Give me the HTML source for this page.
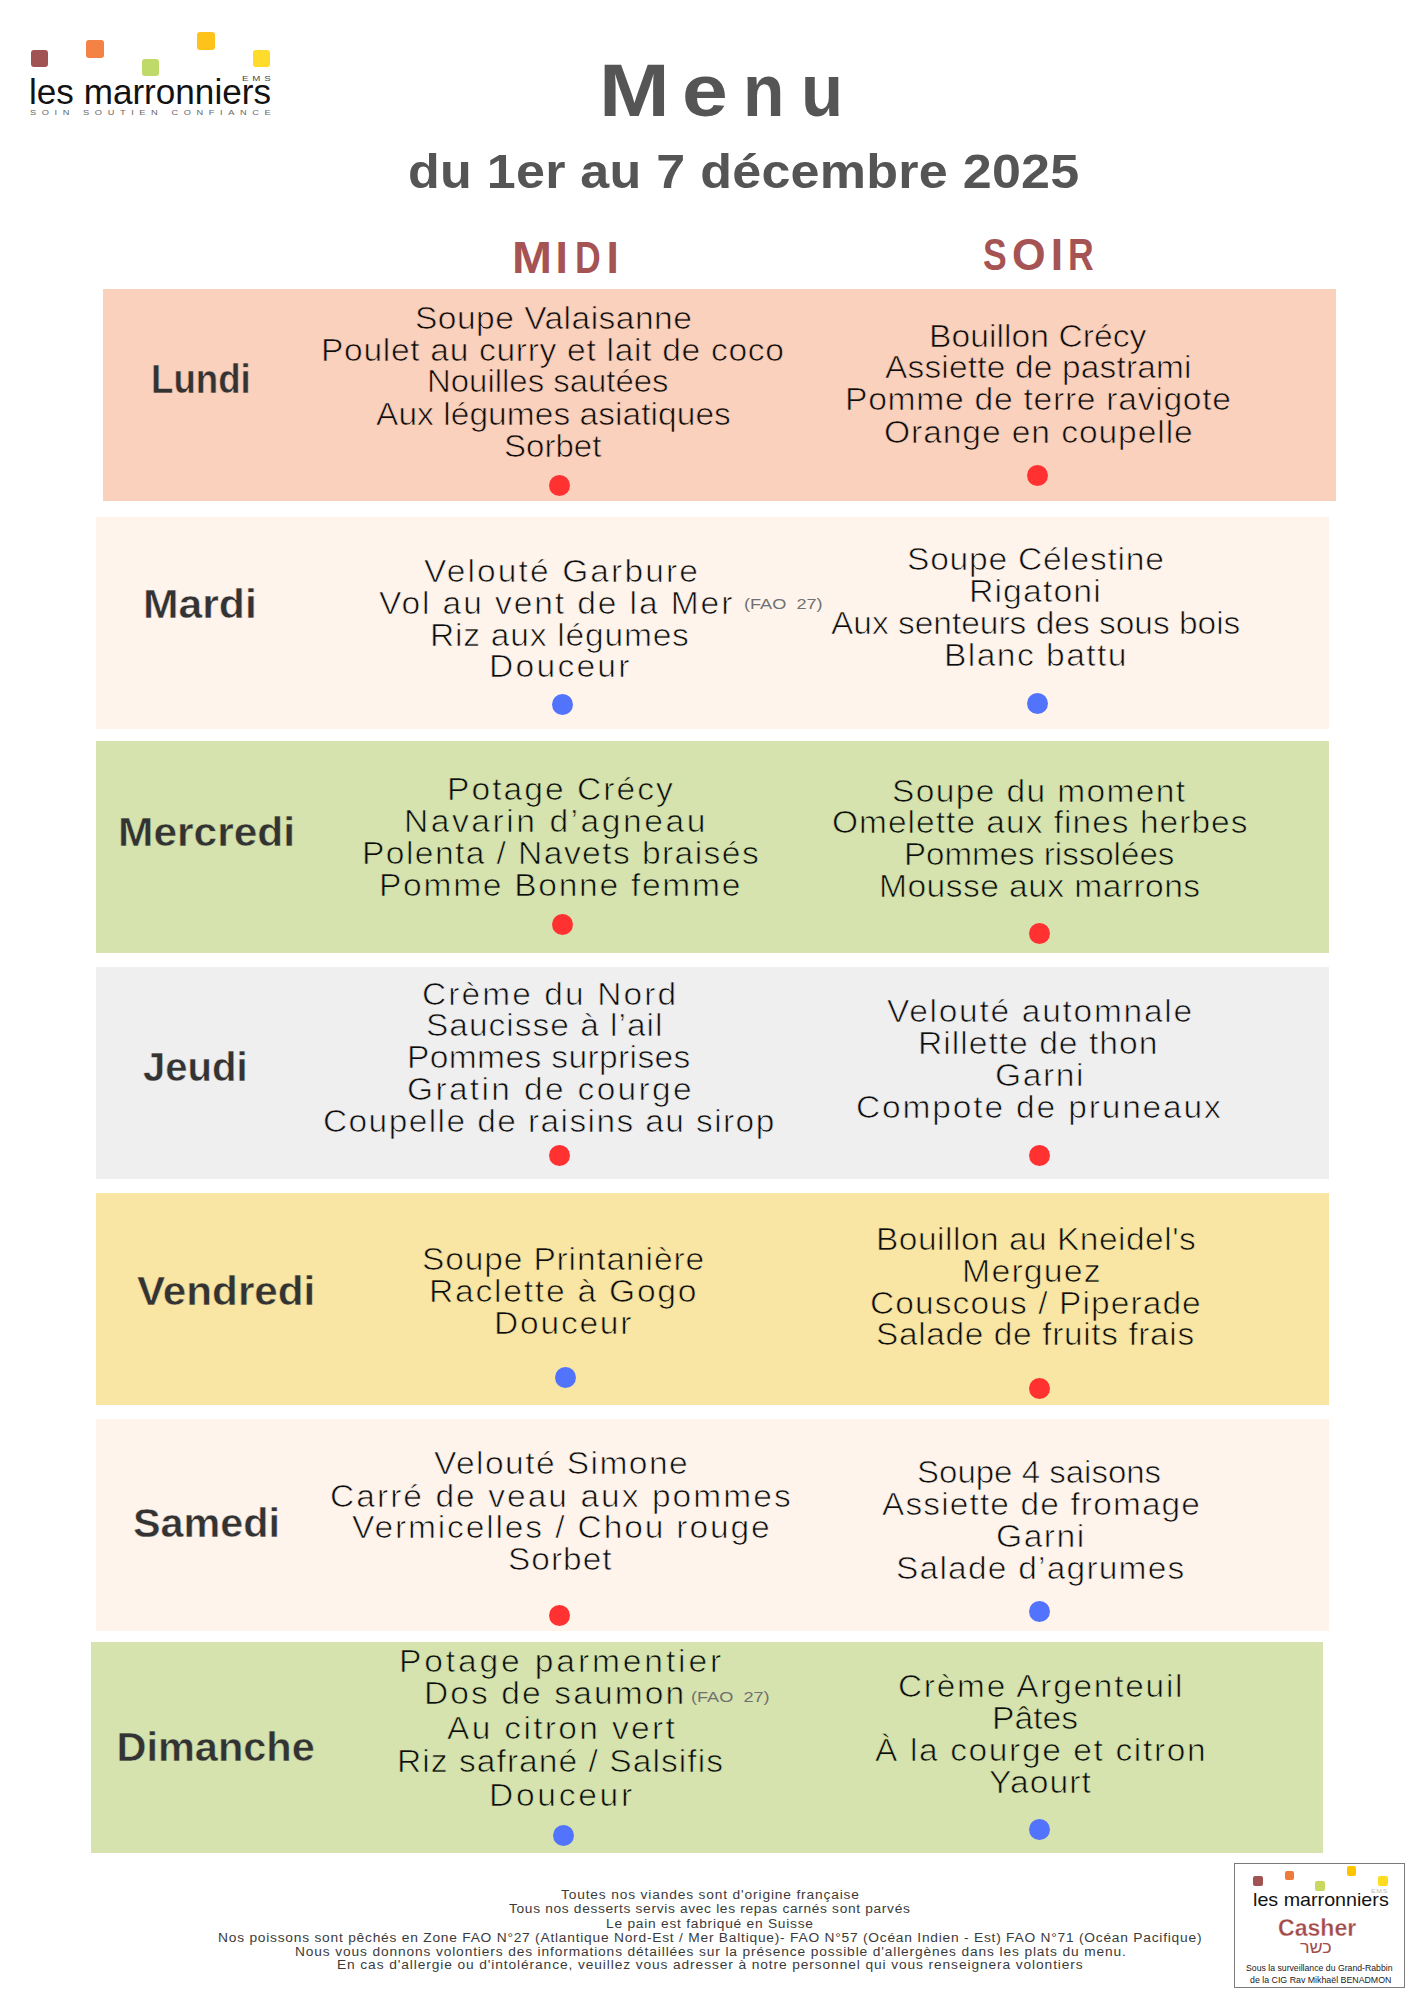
<!DOCTYPE html><html><head><meta charset="utf-8"><title>Menu</title><style>

*{margin:0;padding:0;box-sizing:border-box}
html,body{width:1414px;height:2000px;background:#fff;overflow:hidden}
body{position:relative;font-family:"Liberation Sans",sans-serif}
.b{position:absolute}
.t{position:absolute;line-height:0;white-space:pre;transform-origin:0 0}
.d{position:absolute;width:21px;height:21px;border-radius:50%}
.r{background:#FF3131}
.u{background:#5273FC}
.sq{position:absolute;border-radius:3px}

</style></head><body>
<div class="b" style="left:103px;top:289px;width:1233px;height:212px;background:#F9D1BC"></div>
<div class="b" style="left:96px;top:517px;width:1233px;height:212px;background:#FEF4EB"></div>
<div class="b" style="left:96px;top:741px;width:1233px;height:212px;background:#D7E3AF"></div>
<div class="b" style="left:96px;top:967px;width:1233px;height:212px;background:#EFEFEF"></div>
<div class="b" style="left:96px;top:1193px;width:1233px;height:212px;background:#F9E6A5"></div>
<div class="b" style="left:96px;top:1419px;width:1233px;height:212px;background:#FEF4EB"></div>
<div class="b" style="left:91px;top:1642px;width:1232px;height:211px;background:#D7E3AF"></div>
<div class="b" style="left:1234px;top:1863px;width:171px;height:125px;border:1.5px solid #7a7a7a"></div>
<div class="t" style="left:414.85px;top:319.00px;font-size:31px;-webkit-text-stroke:0.7px #F9D1BC;color:#0d0d0d;letter-spacing:0.423px;transform:scaleX(1.0828)">Soupe Valaisanne</div>
<div class="t" style="left:321.35px;top:351.00px;font-size:31px;-webkit-text-stroke:0.7px #F9D1BC;color:#0d0d0d;letter-spacing:0.652px;transform:scaleX(1.0816)">Poulet au curry et lait de coco</div>
<div class="t" style="left:427.25px;top:382.00px;font-size:31px;-webkit-text-stroke:0.7px #F9D1BC;color:#0d0d0d;letter-spacing:0.000px;transform:scaleX(1.0619)">Nouilles sautées</div>
<div class="t" style="left:376.35px;top:415.00px;font-size:31px;-webkit-text-stroke:0.7px #F9D1BC;color:#0d0d0d;letter-spacing:0.068px;transform:scaleX(1.0791)">Aux légumes asiatiques</div>
<div class="t" style="left:504.00px;top:447.00px;font-size:31px;-webkit-text-stroke:0.7px #F9D1BC;color:#0d0d0d;letter-spacing:0.000px;transform:scaleX(1.0659)">Sorbet</div>
<div class="t" style="left:928.65px;top:337.00px;font-size:31px;-webkit-text-stroke:0.7px #F9D1BC;color:#0d0d0d;letter-spacing:0.056px;transform:scaleX(1.0835)">Bouillon Crécy</div>
<div class="t" style="left:885.30px;top:368.00px;font-size:31px;-webkit-text-stroke:0.7px #F9D1BC;color:#0d0d0d;letter-spacing:0.166px;transform:scaleX(1.0793)">Assiette de pastrami</div>
<div class="t" style="left:844.65px;top:400.00px;font-size:31px;-webkit-text-stroke:0.7px #F9D1BC;color:#0d0d0d;letter-spacing:0.661px;transform:scaleX(1.0854)">Pomme de terre ravigote</div>
<div class="t" style="left:883.65px;top:433.00px;font-size:31px;-webkit-text-stroke:0.7px #F9D1BC;color:#0d0d0d;letter-spacing:0.870px;transform:scaleX(1.0818)">Orange en coupelle</div>
<div class="t" style="left:423.50px;top:572.00px;font-size:31px;-webkit-text-stroke:0.7px #FEF4EB;color:#0d0d0d;letter-spacing:1.984px;transform:scaleX(1.0800)">Velouté Garbure</div>
<div class="t" style="left:378.80px;top:604.00px;font-size:31px;-webkit-text-stroke:0.7px #FEF4EB;color:#0d0d0d;letter-spacing:1.770px;transform:scaleX(1.0818)">Vol au vent de la Mer</div>
<div class="t" style="left:430.40px;top:636.00px;font-size:31px;-webkit-text-stroke:0.7px #FEF4EB;color:#0d0d0d;letter-spacing:0.698px;transform:scaleX(1.0834)">Riz aux légumes</div>
<div class="t" style="left:489.20px;top:667.00px;font-size:31px;-webkit-text-stroke:0.7px #FEF4EB;color:#0d0d0d;letter-spacing:2.056px;transform:scaleX(1.0847)">Douceur</div>
<div class="t" style="left:906.60px;top:560.00px;font-size:31px;-webkit-text-stroke:0.7px #FEF4EB;color:#0d0d0d;letter-spacing:0.696px;transform:scaleX(1.0826)">Soupe Célestine</div>
<div class="t" style="left:969.20px;top:592.00px;font-size:31px;-webkit-text-stroke:0.7px #FEF4EB;color:#0d0d0d;letter-spacing:0.984px;transform:scaleX(1.0919)">Rigatoni</div>
<div class="t" style="left:831.15px;top:624.00px;font-size:31px;-webkit-text-stroke:0.7px #FEF4EB;color:#0d0d0d;letter-spacing:0.000px;transform:scaleX(1.0797)">Aux senteurs des sous bois</div>
<div class="t" style="left:944.00px;top:656.00px;font-size:31px;-webkit-text-stroke:0.7px #FEF4EB;color:#0d0d0d;letter-spacing:1.330px;transform:scaleX(1.0836)">Blanc battu</div>
<div class="t" style="left:446.75px;top:790.00px;font-size:31px;-webkit-text-stroke:0.7px #D7E3AF;color:#0d0d0d;letter-spacing:1.897px;transform:scaleX(1.0824)">Potage Crécy</div>
<div class="t" style="left:404.05px;top:822.00px;font-size:31px;-webkit-text-stroke:0.7px #D7E3AF;color:#0d0d0d;letter-spacing:2.335px;transform:scaleX(1.0840)">Navarin d’agneau</div>
<div class="t" style="left:361.75px;top:854.00px;font-size:31px;-webkit-text-stroke:0.7px #D7E3AF;color:#0d0d0d;letter-spacing:1.308px;transform:scaleX(1.0836)">Polenta / Navets braisés</div>
<div class="t" style="left:379.25px;top:886.00px;font-size:31px;-webkit-text-stroke:0.7px #D7E3AF;color:#0d0d0d;letter-spacing:1.582px;transform:scaleX(1.0827)">Pomme Bonne femme</div>
<div class="t" style="left:892.40px;top:792.00px;font-size:31px;-webkit-text-stroke:0.7px #D7E3AF;color:#0d0d0d;letter-spacing:1.267px;transform:scaleX(1.0815)">Soupe du moment</div>
<div class="t" style="left:832.45px;top:823.00px;font-size:31px;-webkit-text-stroke:0.7px #D7E3AF;color:#0d0d0d;letter-spacing:0.961px;transform:scaleX(1.0792)">Omelette aux fines herbes</div>
<div class="t" style="left:904.10px;top:855.00px;font-size:31px;-webkit-text-stroke:0.7px #D7E3AF;color:#0d0d0d;letter-spacing:0.000px;transform:scaleX(1.0675)">Pommes rissolées</div>
<div class="t" style="left:878.95px;top:887.00px;font-size:31px;-webkit-text-stroke:0.7px #D7E3AF;color:#0d0d0d;letter-spacing:0.395px;transform:scaleX(1.0844)">Mousse aux marrons</div>
<div class="t" style="left:422.25px;top:995.00px;font-size:31px;-webkit-text-stroke:0.7px #EFEFEF;color:#0d0d0d;letter-spacing:1.983px;transform:scaleX(1.0779)">Crème du Nord</div>
<div class="t" style="left:426.35px;top:1026.00px;font-size:31px;-webkit-text-stroke:0.7px #EFEFEF;color:#0d0d0d;letter-spacing:0.917px;transform:scaleX(1.0805)">Saucisse à l’ail</div>
<div class="t" style="left:406.80px;top:1058.00px;font-size:31px;-webkit-text-stroke:0.7px #EFEFEF;color:#0d0d0d;letter-spacing:0.333px;transform:scaleX(1.0831)">Pommes surprises</div>
<div class="t" style="left:406.80px;top:1090.00px;font-size:31px;-webkit-text-stroke:0.7px #EFEFEF;color:#0d0d0d;letter-spacing:2.190px;transform:scaleX(1.0792)">Gratin de courge</div>
<div class="t" style="left:322.90px;top:1122.00px;font-size:31px;-webkit-text-stroke:0.7px #EFEFEF;color:#0d0d0d;letter-spacing:1.314px;transform:scaleX(1.0795)">Coupelle de raisins au sirop</div>
<div class="t" style="left:886.65px;top:1012.00px;font-size:31px;-webkit-text-stroke:0.7px #EFEFEF;color:#0d0d0d;letter-spacing:1.598px;transform:scaleX(1.0804)">Velouté automnale</div>
<div class="t" style="left:918.30px;top:1044.00px;font-size:31px;-webkit-text-stroke:0.7px #EFEFEF;color:#0d0d0d;letter-spacing:0.914px;transform:scaleX(1.0855)">Rillette de thon</div>
<div class="t" style="left:994.65px;top:1076.00px;font-size:31px;-webkit-text-stroke:0.7px #EFEFEF;color:#0d0d0d;letter-spacing:1.477px;transform:scaleX(1.0838)">Garni</div>
<div class="t" style="left:856.05px;top:1108.00px;font-size:31px;-webkit-text-stroke:0.7px #EFEFEF;color:#0d0d0d;letter-spacing:1.699px;transform:scaleX(1.0815)">Compote de pruneaux</div>
<div class="t" style="left:421.80px;top:1260.00px;font-size:31px;-webkit-text-stroke:0.7px #F9E6A5;color:#0d0d0d;letter-spacing:0.789px;transform:scaleX(1.0815)">Soupe Printanière</div>
<div class="t" style="left:428.90px;top:1292.00px;font-size:31px;-webkit-text-stroke:0.7px #F9E6A5;color:#0d0d0d;letter-spacing:1.611px;transform:scaleX(1.0849)">Raclette à Gogo</div>
<div class="t" style="left:494.25px;top:1324.00px;font-size:31px;-webkit-text-stroke:0.7px #F9E6A5;color:#0d0d0d;letter-spacing:1.670px;transform:scaleX(1.0808)">Douceur</div>
<div class="t" style="left:875.55px;top:1240.00px;font-size:31px;-webkit-text-stroke:0.7px #F9E6A5;color:#0d0d0d;letter-spacing:0.468px;transform:scaleX(1.0797)">Bouillon au Kneidel&#x27;s</div>
<div class="t" style="left:962.15px;top:1272.00px;font-size:31px;-webkit-text-stroke:0.7px #F9E6A5;color:#0d0d0d;letter-spacing:1.077px;transform:scaleX(1.0921)">Merguez</div>
<div class="t" style="left:870.35px;top:1304.00px;font-size:31px;-webkit-text-stroke:0.7px #F9E6A5;color:#0d0d0d;letter-spacing:1.030px;transform:scaleX(1.0797)">Couscous / Piperade</div>
<div class="t" style="left:876.20px;top:1335.00px;font-size:31px;-webkit-text-stroke:0.7px #F9E6A5;color:#0d0d0d;letter-spacing:0.605px;transform:scaleX(1.0773)">Salade de fruits frais</div>
<div class="t" style="left:433.70px;top:1464.00px;font-size:31px;-webkit-text-stroke:0.7px #FEF4EB;color:#0d0d0d;letter-spacing:1.313px;transform:scaleX(1.0834)">Velouté Simone</div>
<div class="t" style="left:330.20px;top:1497.00px;font-size:31px;-webkit-text-stroke:0.7px #FEF4EB;color:#0d0d0d;letter-spacing:1.913px;transform:scaleX(1.0800)">Carré de veau aux pommes</div>
<div class="t" style="left:352.20px;top:1528.00px;font-size:31px;-webkit-text-stroke:0.7px #FEF4EB;color:#0d0d0d;letter-spacing:1.728px;transform:scaleX(1.0816)">Vermicelles / Chou rouge</div>
<div class="t" style="left:508.00px;top:1560.00px;font-size:31px;-webkit-text-stroke:0.7px #FEF4EB;color:#0d0d0d;letter-spacing:0.985px;transform:scaleX(1.0758)">Sorbet</div>
<div class="t" style="left:917.45px;top:1473.00px;font-size:31px;-webkit-text-stroke:0.7px #FEF4EB;color:#0d0d0d;letter-spacing:-0.000px;transform:scaleX(1.0650)">Soupe 4 saisons</div>
<div class="t" style="left:881.60px;top:1505.00px;font-size:31px;-webkit-text-stroke:0.7px #FEF4EB;color:#0d0d0d;letter-spacing:1.060px;transform:scaleX(1.0786)">Assiette de fromage</div>
<div class="t" style="left:996.10px;top:1537.00px;font-size:31px;-webkit-text-stroke:0.7px #FEF4EB;color:#0d0d0d;letter-spacing:1.315px;transform:scaleX(1.0876)">Garni</div>
<div class="t" style="left:895.60px;top:1569.00px;font-size:31px;-webkit-text-stroke:0.7px #FEF4EB;color:#0d0d0d;letter-spacing:1.128px;transform:scaleX(1.0808)">Salade d’agrumes</div>
<div class="t" style="left:398.70px;top:1662.00px;font-size:31px;-webkit-text-stroke:0.7px #D7E3AF;color:#0d0d0d;letter-spacing:2.643px;transform:scaleX(1.0834)">Potage parmentier</div>
<div class="t" style="left:424.40px;top:1694.00px;font-size:31px;-webkit-text-stroke:0.7px #D7E3AF;color:#0d0d0d;letter-spacing:1.944px;transform:scaleX(1.0817)">Dos de saumon</div>
<div class="t" style="left:446.75px;top:1729.00px;font-size:31px;-webkit-text-stroke:0.7px #D7E3AF;color:#0d0d0d;letter-spacing:2.170px;transform:scaleX(1.0805)">Au citron vert</div>
<div class="t" style="left:396.75px;top:1762.00px;font-size:31px;-webkit-text-stroke:0.7px #D7E3AF;color:#0d0d0d;letter-spacing:0.978px;transform:scaleX(1.0817)">Riz safrané / Salsifis</div>
<div class="t" style="left:489.10px;top:1796.00px;font-size:31px;-webkit-text-stroke:0.7px #D7E3AF;color:#0d0d0d;letter-spacing:2.488px;transform:scaleX(1.0831)">Douceur</div>
<div class="t" style="left:898.45px;top:1687.00px;font-size:31px;-webkit-text-stroke:0.7px #D7E3AF;color:#0d0d0d;letter-spacing:1.663px;transform:scaleX(1.0758)">Crème Argenteuil</div>
<div class="t" style="left:991.70px;top:1719.00px;font-size:31px;-webkit-text-stroke:0.7px #D7E3AF;color:#0d0d0d;letter-spacing:0.000px;transform:scaleX(1.0848)">Pâtes</div>
<div class="t" style="left:874.95px;top:1751.00px;font-size:31px;-webkit-text-stroke:0.7px #D7E3AF;color:#0d0d0d;letter-spacing:1.523px;transform:scaleX(1.0797)">À la courge et citron</div>
<div class="t" style="left:989.45px;top:1783.00px;font-size:31px;-webkit-text-stroke:0.7px #D7E3AF;color:#0d0d0d;letter-spacing:0.982px;transform:scaleX(1.0853)">Yaourt</div>
<div class="t" style="left:151.10px;top:379.00px;font-size:41.5px;-webkit-text-stroke:0.5px #F9D1BC;font-weight:700;color:#333333;letter-spacing:0.000px;transform:scaleX(0.8827)">Lundi</div>
<div class="t" style="left:142.80px;top:604.00px;font-size:41.5px;-webkit-text-stroke:0.5px #FEF4EB;font-weight:700;color:#333333;letter-spacing:0.000px;transform:scaleX(1.0280)">Mardi</div>
<div class="t" style="left:117.90px;top:832.00px;font-size:41.5px;-webkit-text-stroke:0.5px #D7E3AF;font-weight:700;color:#333333;letter-spacing:0.000px;transform:scaleX(1.0237)">Mercredi</div>
<div class="t" style="left:142.65px;top:1067.00px;font-size:41.5px;-webkit-text-stroke:0.5px #EFEFEF;font-weight:700;color:#333333;letter-spacing:0.000px;transform:scaleX(0.9661)">Jeudi</div>
<div class="t" style="left:136.75px;top:1291.00px;font-size:41.5px;-webkit-text-stroke:0.5px #F9E6A5;font-weight:700;color:#333333;letter-spacing:0.000px;transform:scaleX(1.0173)">Vendredi</div>
<div class="t" style="left:133.35px;top:1523.00px;font-size:41.5px;-webkit-text-stroke:0.5px #FEF4EB;font-weight:700;color:#333333;letter-spacing:0.000px;transform:scaleX(0.9959)">Samedi</div>
<div class="t" style="left:116.45px;top:1747.00px;font-size:41.5px;-webkit-text-stroke:0.5px #D7E3AF;font-weight:700;color:#333333;letter-spacing:0.000px;transform:scaleX(1.0000)">Dimanche</div>
<div class="t" style="left:560.60px;top:1895.00px;font-size:12.5px;color:#3a3a3a;letter-spacing:0.764px;transform:scaleX(1.1007)">Toutes nos viandes sont d&#x27;origine française</div>
<div class="t" style="left:509.25px;top:1909.00px;font-size:12.5px;color:#3a3a3a;letter-spacing:0.605px;transform:scaleX(1.0997)">Tous nos desserts servis avec les repas carnés sont parvés</div>
<div class="t" style="left:605.95px;top:1924.00px;font-size:12.5px;color:#3a3a3a;letter-spacing:0.693px;transform:scaleX(1.0995)">Le pain est fabriqué en Suisse</div>
<div class="t" style="left:218.10px;top:1938.00px;font-size:12.5px;color:#3a3a3a;letter-spacing:0.704px;transform:scaleX(1.1004)">Nos poissons sont pêchés en Zone FAO N°27 (Atlantique Nord-Est / Mer Baltique)- FAO N°57 (Océan Indien - Est) FAO N°71 (Océan Pacifique)</div>
<div class="t" style="left:295.10px;top:1952.00px;font-size:12.5px;color:#3a3a3a;letter-spacing:0.789px;transform:scaleX(1.0997)">Nous vous donnons volontiers des informations détaillées sur la présence possible d&#x27;allergènes dans les plats du menu.</div>
<div class="t" style="left:336.95px;top:1965.00px;font-size:12.5px;color:#3a3a3a;letter-spacing:0.816px;transform:scaleX(1.1001)">En cas d&#x27;allergie ou d&#x27;intolérance, veuillez vous adresser à notre personnel qui vous renseignera volontiers</div>
<div class="t" style="left:511.60px;top:258.00px;font-size:44.5px;font-weight:700;color:#A65353;letter-spacing:0.000px;transform:scaleX(1.0788)">M</div>
<div class="t" style="left:555.40px;top:258.00px;font-size:44.5px;font-weight:700;color:#A65353;letter-spacing:0.000px;transform:scaleX(1.0000)">I</div>
<div class="t" style="left:575.00px;top:258.00px;font-size:44.5px;font-weight:700;color:#A65353;letter-spacing:0.000px;transform:scaleX(0.8000)">D</div>
<div class="t" style="left:606.55px;top:258.00px;font-size:44.5px;font-weight:700;color:#A65353;letter-spacing:0.000px;transform:scaleX(1.0000)">I</div>
<div class="t" style="left:983.45px;top:255.00px;font-size:44.5px;font-weight:700;color:#A65353;letter-spacing:0.000px;transform:scaleX(0.8000)">S</div>
<div class="t" style="left:1011.80px;top:255.00px;font-size:44.5px;font-weight:700;color:#A65353;letter-spacing:0.000px;transform:scaleX(0.9697)">O</div>
<div class="t" style="left:1050.75px;top:255.00px;font-size:44.5px;font-weight:700;color:#A65353;letter-spacing:0.000px;transform:scaleX(1.0000)">I</div>
<div class="t" style="left:1068.10px;top:255.00px;font-size:44.5px;font-weight:700;color:#A65353;letter-spacing:0.000px;transform:scaleX(0.8000)">R</div>
<div class="t" style="left:408.00px;top:171.00px;font-size:49px;font-weight:700;color:#555555;letter-spacing:0.250px;transform:scaleX(1.0613)">du 1er au 7 décembre 2025</div>
<div class="t" style="left:598.90px;top:90.00px;font-size:75px;font-weight:700;color:#555555;letter-spacing:0.000px;transform:scaleX(1.1323)">M</div>
<div class="t" style="left:681.85px;top:90.00px;font-size:75px;font-weight:700;color:#555555;letter-spacing:0.000px;transform:scaleX(1.0974)">e</div>
<div class="t" style="left:742.90px;top:90.00px;font-size:75px;font-weight:700;color:#555555;letter-spacing:0.000px;transform:scaleX(0.9032)">n</div>
<div class="t" style="left:800.90px;top:90.00px;font-size:75px;font-weight:700;color:#555555;letter-spacing:0.000px;transform:scaleX(0.9189)">u</div>
<div class="t" style="left:743.50px;top:604.00px;font-size:15px;color:#707070;letter-spacing:0.000px;transform:scaleX(1.2093)">(FAO  27)</div>
<div class="t" style="left:690.60px;top:1697.00px;font-size:15px;color:#707070;letter-spacing:0.000px;transform:scaleX(1.2093)">(FAO  27)</div>
<div class="t" style="left:29.35px;top:92.00px;font-size:35px;color:#121212;letter-spacing:0.000px;transform:scaleX(1.0033)">les marronniers</div>
<div class="t" style="left:241.70px;top:79.00px;font-size:8px;color:#444444;letter-spacing:3.167px;transform:scaleX(1.2083)">EMS</div>
<div class="t" style="left:30.00px;top:113.00px;font-size:7.7px;color:#666666;letter-spacing:4.643px;transform:scaleX(1.2030)">SOIN SOUTIEN CONFIANCE</div>
<div class="t" style="left:1252.60px;top:1900.00px;font-size:19px;color:#121212;letter-spacing:0.000px;transform:scaleX(1.0367)">les marronniers</div>
<div class="t" style="left:1371.25px;top:1892.00px;font-size:4.5px;color:#bbbbbb;letter-spacing:0.433px;transform:scaleX(1.5281)">EMS</div>
<div class="t" style="left:1277.85px;top:1928.00px;font-size:23px;-webkit-text-stroke:0.3px #ffffff;font-weight:700;color:#A24B4B;letter-spacing:0.000px;transform:scaleX(1.0026)">Casher</div>
<div class="t" style="left:1300.40px;top:1948.00px;font-size:16px;color:#A24B4B;letter-spacing:0.000px;transform:scaleX(1.1221)">כשר</div>
<div class="t" style="left:1245.85px;top:1968.00px;font-size:8.6px;color:#1a1a1a;letter-spacing:0.000px;transform:scaleX(1.0124)">Sous la surveillance du Grand-Rabbin</div>
<div class="t" style="left:1249.65px;top:1980.00px;font-size:8.6px;color:#1a1a1a;letter-spacing:0.000px;transform:scaleX(1.0246)">de la CIG Rav Mikhaël BENADMON</div>
<div class="d r" style="left:549.2px;top:474.9px"></div>
<div class="d r" style="left:1027.1px;top:464.5px"></div>
<div class="d u" style="left:552.0px;top:694.1px"></div>
<div class="d u" style="left:1027.1px;top:692.7px"></div>
<div class="d r" style="left:551.8px;top:913.8px"></div>
<div class="d r" style="left:1029.2px;top:922.6px"></div>
<div class="d r" style="left:548.7px;top:1145.1px"></div>
<div class="d r" style="left:1029.2px;top:1145.1px"></div>
<div class="d u" style="left:555.4px;top:1366.6px"></div>
<div class="d r" style="left:1029.2px;top:1377.9px"></div>
<div class="d r" style="left:549.1px;top:1604.7px"></div>
<div class="d u" style="left:1029.2px;top:1600.5px"></div>
<div class="d u" style="left:552.9px;top:1824.7px"></div>
<div class="d u" style="left:1029.2px;top:1819.1px"></div>

<div class="sq" style="left:30.7px;top:49.6px;width:17.4px;height:17.4px;background:#A15252"></div>
<div class="sq" style="left:86.1px;top:40.3px;width:17.6px;height:17.6px;background:#F48244"></div>
<div class="sq" style="left:142px;top:58.9px;width:17.2px;height:17.2px;background:#BFDA69"></div>
<div class="sq" style="left:197.3px;top:32.4px;width:17.6px;height:17.4px;background:#FFC21B"></div>
<div class="sq" style="left:253px;top:49.8px;width:17.4px;height:17.4px;background:#FFDB2B"></div>


<div class="sq" style="left:1253.2px;top:1876.1px;width:10px;height:9.8px;background:#A15252;border-radius:2px"></div>
<div class="sq" style="left:1284.5px;top:1870.9px;width:9.7px;height:9.5px;background:#EF7B3A;border-radius:2px"></div>
<div class="sq" style="left:1315.3px;top:1881px;width:9.9px;height:9.7px;background:#C8D860;border-radius:2px"></div>
<div class="sq" style="left:1346.9px;top:1866.4px;width:9.4px;height:9.4px;background:#FFC400;border-radius:2px"></div>
<div class="sq" style="left:1378.2px;top:1876.1px;width:9.7px;height:9.8px;background:#FFDC1E;border-radius:2px"></div>

</body></html>
